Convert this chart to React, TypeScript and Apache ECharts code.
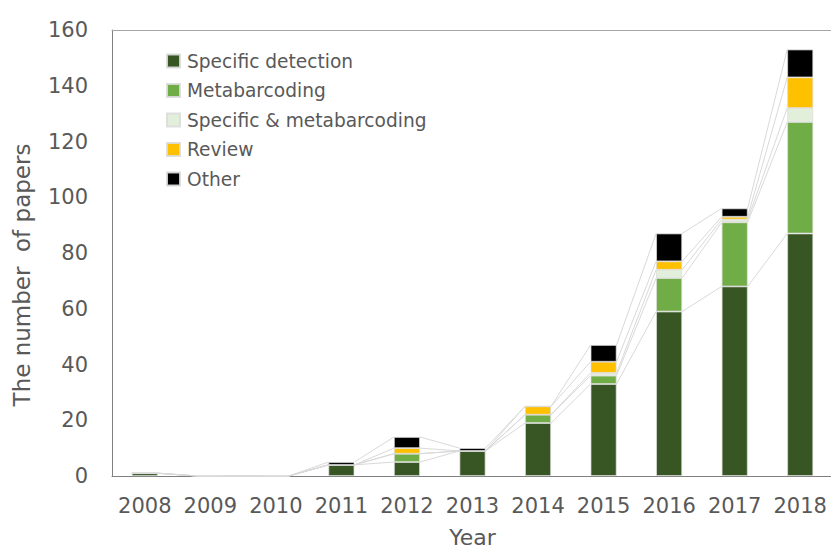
import React, { useEffect, useRef } from "react";
import * as echarts from "echarts";

const years = ["2008", "2009", "2010", "2011", "2012", "2013", "2014", "2015", "2016", "2017", "2018"];
const specificDetection = [1, 0, 0, 4, 5, 9, 19, 33, 59, 68, 87];
const metabarcoding = [0, 0, 0, 0, 3, 0, 3, 3, 12, 23, 40];
const specificMeta = [0, 0, 0, 0, 0, 0, 0, 1, 3, 1, 5];
const review = [0, 0, 0, 0, 2, 0, 3, 4, 3, 1, 11];
const other = [0, 0, 0, 1, 4, 1, 0, 6, 10, 3, 10];

const seriesNames = ["Specific detection", "Metabarcoding", "Specific & metabarcoding", "Review", "Other"];
const seriesValues = [specificDetection, metabarcoding, specificMeta, review, other];
const colors = ["#375623", "#70AD47", "#E2EFDA", "#FFC000", "#000000"];
const yTitle = "The number  of papers";
const xTitle = "Year";

const FONT = "DejaVu Sans";
const TEXT_COLOR = "#595959";
const BAR_W = 26;

export default function App() {
  const ref = useRef<HTMLDivElement>(null);
  useEffect(() => {
    if (!ref.current) return;
    const chart = echarts.init(ref.current, null, { renderer: "svg" });

    const cum: number[][] = [];
    seriesValues.forEach((vals, k) => {
      cum.push(vals.map((v, i) => (k === 0 ? 0 : cum[k - 1][i]) + v));
    });
    const lineData: number[][] = [];
    cum.forEach((c) => {
      for (let i = 0; i < years.length - 1; i++) lineData.push([i, c[i], c[i + 1]]);
    });

    const barSeries = seriesNames.map((name, k) => ({
      name,
      type: "bar",
      stack: "total",
      barWidth: BAR_W,
      data: seriesValues[k],
      itemStyle: { color: colors[k], borderColor: "rgba(220,220,220,0.9)", borderWidth: 0.8 },
      z: 3,
    }));

    chart.setOption({
      animation: false,
      textStyle: { fontFamily: FONT },
      grid: {
        left: 112,
        top: 30,
        width: 721,
        height: 446,
        show: false,
        outerBoundsMode: "none",
        containLabel: false,
      },
      graphic: [
        {
          type: "text",
          x: 22,
          y: 275,
          rotation: Math.PI / 2,
          style: {
            text: yTitle,
            fontFamily: FONT,
            fontSize: 23,
            fill: TEXT_COLOR,
            align: "center",
            verticalAlign: "middle",
          },
        },
      ],
      legend: {
        data: seriesNames,
        orient: "vertical",
        left: 161,
        top: 46,
        icon: "rect",
        itemWidth: 13,
        itemHeight: 13,
        itemGap: 9.5,
        textStyle: { fontFamily: FONT, fontSize: 18.6, color: TEXT_COLOR, lineHeight: 20, padding: [0, 0, 0, 2] },
      },
      xAxis: [
        {
          type: "category",
          data: years,
          name: xTitle,
          nameLocation: "middle",
          nameGap: 50,
          nameTextStyle: { fontFamily: FONT, fontSize: 22, color: TEXT_COLOR },
          axisLine: { lineStyle: { color: "#808080", width: 1 } },
          axisTick: { show: false },
          axisLabel: { fontFamily: FONT, fontSize: 21, color: TEXT_COLOR, margin: 19, interval: 0 },
        },
        {
          type: "category",
          data: years,
          position: "top",
          axisLine: { show: true, lineStyle: { color: "#a6a6a6", width: 1 } },
          axisTick: { show: false },
          axisLabel: { show: false },
          splitLine: { show: false },
        },
      ],
      yAxis: {
        type: "value",
        min: 0,
        max: 160,
        interval: 20,
        axisLine: { show: true, lineStyle: { color: "#808080", width: 1 } },
        axisTick: { show: false },
        splitLine: { show: false },
        axisLabel: { fontFamily: FONT, fontSize: 21, color: TEXT_COLOR, margin: 24 },
      },
      series: [
        {
          type: "custom",
          name: "seriesLines",
          silent: true,
          z: 1,
          data: lineData,
          encode: { x: 0, y: [1, 2] },
          renderItem: (_params: any, api: any) => {
            const i = api.value(0);
            const p1 = api.coord([i, api.value(1)]);
            const p2 = api.coord([i + 1, api.value(2)]);
            const half = BAR_W / 2;
            return {
              type: "line",
              shape: { x1: p1[0] + half, y1: p1[1], x2: p2[0] - half, y2: p2[1] },
              style: { stroke: "#d9d9d9", lineWidth: 1 },
            };
          },
        },
        ...barSeries,
      ],
    });
    return () => chart.dispose();
  }, []);
  return <div ref={ref} style={{ width: 831, height: 550, position: "absolute", left: 0, top: 0 }} />;
}
